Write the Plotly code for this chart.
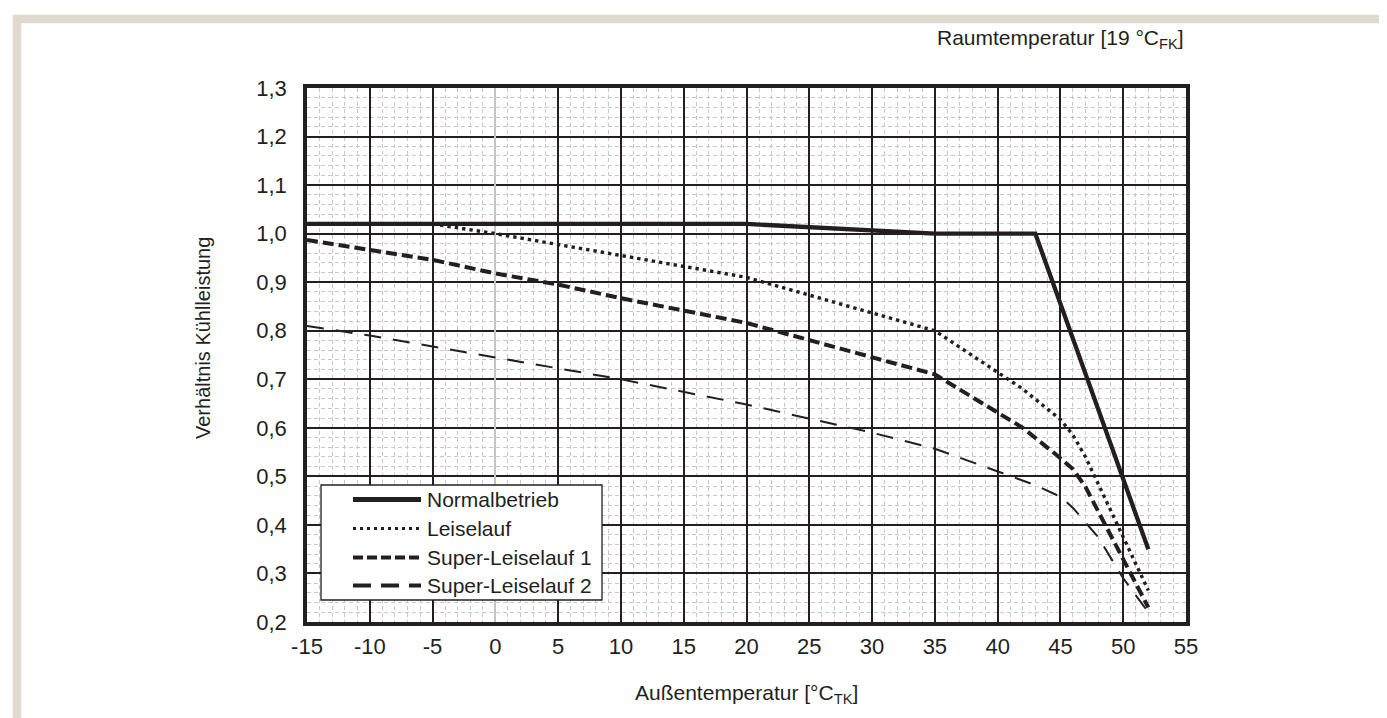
import plotly.graph_objects as go

# ---------------- data ----------------
series_names = ["Normalbetrieb", "Leiselauf", "Super-Leiselauf 1", "Super-Leiselauf 2"]

normal_x = [-15, 20, 35, 43, 52]
normal_y = [1.02, 1.02, 1.00, 1.00, 0.35]

leise_x = [-15, -5, 0, 20, 35, 42, 45, 46, 47, 52]
leise_y = [1.02, 1.02, 1.00, 0.91, 0.80, 0.68, 0.617, 0.585, 0.54, 0.265]

super1_x = [-15, -10, -5, 0, 5, 10, 20, 35, 42, 44.5, 46, 47, 52]
super1_y = [0.987, 0.967, 0.946, 0.918, 0.895, 0.867, 0.816, 0.71, 0.60, 0.548, 0.515, 0.478, 0.23]

super2_x = [-15, -10, 0, 10, 20, 30, 35, 40, 43, 45, 46, 48, 50, 52]
super2_y = [0.81, 0.79, 0.745, 0.70, 0.648, 0.59, 0.557, 0.51, 0.482, 0.458, 0.435, 0.375, 0.29, 0.22]

x_tick_vals = [-15, -10, -5, 0, 5, 10, 15, 20, 25, 30, 35, 40, 45, 50, 55]
x_tick_labels = ["-15", "-10", "-5", "0", "5", "10", "15", "20", "25", "30", "35", "40", "45", "50", "55"]
y_tick_vals = [0.2, 0.3, 0.4, 0.5, 0.6, 0.7, 0.8, 0.9, 1.0, 1.1, 1.2, 1.3]
y_tick_labels = ["0,2", "0,3", "0,4", "0,5", "0,6", "0,7", "0,8", "0,9", "1,0", "1,1", "1,2", "1,3"]

x_title = "Außentemperatur [°C<sub>TK</sub>]"
y_title = "Verhältnis Kühlleistung"
top_note = "Raumtemperatur [19 °C<sub>FK</sub>]"

# ---------------- style ----------------
INK = "#231f20"
BEIGE = "#e0d9cf"
FONT = "Liberation Sans, Arial, Helvetica, sans-serif"

styles = [
    dict(width=4.3, dash="solid"),
    dict(width=3.4, dash="3.4px,4px"),
    dict(width=4.0, dash="11px,5px"),
    dict(width=2.0, dash="17px,12px"),
]
legend_styles = [
    dict(width=5, dash="solid"),
    dict(width=3, dash="3px,4px"),
    dict(width=4, dash="10px,4px"),
    dict(width=4, dash="18px,10px"),
]

xs = [normal_x, leise_x, super1_x, super2_x]
ys = [normal_y, leise_y, super1_y, super2_y]

W, H = 1387, 718
ML, MR, MT, MB = 299, 209, 80, 104
PW, PH = W - ML - MR, H - MT - MB


def px_x(p):
    return (p - ML) / PW


def px_y(p):
    return (H - MB - p) / PH


fig = go.Figure()
for name, x, y, st in zip(series_names, xs, ys, styles):
    fig.add_trace(go.Scatter(
        x=x, y=y, mode="lines", name=name, showlegend=False,
        line=dict(color=INK, width=st["width"], dash=st["dash"]),
    ))

shapes = []
annotations = []

# outer beige frame
shapes.append(dict(type="rect", xref="paper", yref="paper",
                   x0=px_x(9), x1=px_x(1377.5), y0=px_y(735), y1=px_y(11),
                   line=dict(color=BEIGE, width=8.5), fillcolor="rgba(0,0,0,0)", layer="below"))

# legend box
lx0, lx1, ly_top, ly_bot = 313, 594, 477, 592
shapes.append(dict(type="rect", xref="paper", yref="paper",
                   x0=px_x(lx0), x1=px_x(lx1), y0=px_y(ly_bot), y1=px_y(ly_top),
                   line=dict(color=INK, width=1.3), fillcolor="white", layer="above"))
row_y = [491.5, 520.5, 549.5, 577.5]
for name, st, ry in zip(series_names, legend_styles, row_y):
    shapes.append(dict(type="line", xref="paper", yref="paper",
                       x0=px_x(345), x1=px_x(413), y0=px_y(ry), y1=px_y(ry),
                       line=dict(color=INK, width=st["width"], dash=st["dash"]), layer="above"))
    annotations.append(dict(text=name, xref="paper", yref="paper", x=px_x(417), y=px_y(ry),
                            xanchor="left", yanchor="middle", showarrow=False,
                            font=dict(family=FONT, size=21, color=INK)))

annotations.append(dict(text=top_note, xref="paper", yref="paper", x=px_x(1178), y=px_y(31),
                        xanchor="right", yanchor="middle", showarrow=False,
                        font=dict(family=FONT, size=21, color=INK)))
annotations.append(dict(text=y_title, xref="paper", yref="paper", x=px_x(195), y=px_y(330),
                        xanchor="center", yanchor="middle", textangle=-90, showarrow=False,
                        font=dict(family=FONT, size=20, color=INK)))
annotations.append(dict(text=x_title, xref="paper", yref="paper", x=0.5, y=px_y(686),
                        xanchor="center", yanchor="middle", showarrow=False,
                        font=dict(family=FONT, size=21, color=INK)))

fig.update_layout(
    width=W, height=H,
    margin=dict(l=ML, r=MR, t=MT, b=MB, autoexpand=False),
    paper_bgcolor="white", plot_bgcolor="white",
    font=dict(family=FONT, size=21, color=INK),
    showlegend=False,
    shapes=shapes, annotations=annotations,
    xaxis=dict(
        range=[-15, 55], tickvals=x_tick_vals, ticktext=x_tick_labels,
        showgrid=True, gridcolor=INK, gridwidth=2,
        zeroline=True, zerolinecolor="#c4c4c4", zerolinewidth=2,
        showline=True, linecolor=INK, linewidth=3.5, mirror=True,
        ticks="", ticklen=0, ticklabelstandoff=2,
        tickfont=dict(family=FONT, size=22, color=INK),
        minor=dict(dtick=1, showgrid=True, gridcolor="#c8c8c8", gridwidth=1, griddash="4px,3px"),
        layer="below traces",
    ),
    yaxis=dict(
        range=[0.2, 1.3], tickvals=y_tick_vals, ticktext=y_tick_labels,
        showgrid=True, gridcolor=INK, gridwidth=2,
        zeroline=False,
        showline=True, linecolor=INK, linewidth=3.5, mirror=True,
        ticks="", ticklen=0, ticklabelstandoff=12,
        tickfont=dict(family=FONT, size=22, color=INK),
        minor=dict(dtick=0.02, showgrid=True, gridcolor="#c8c8c8", gridwidth=1, griddash="4px,3px"),
    ),
)

fig.write_html("out.html")
